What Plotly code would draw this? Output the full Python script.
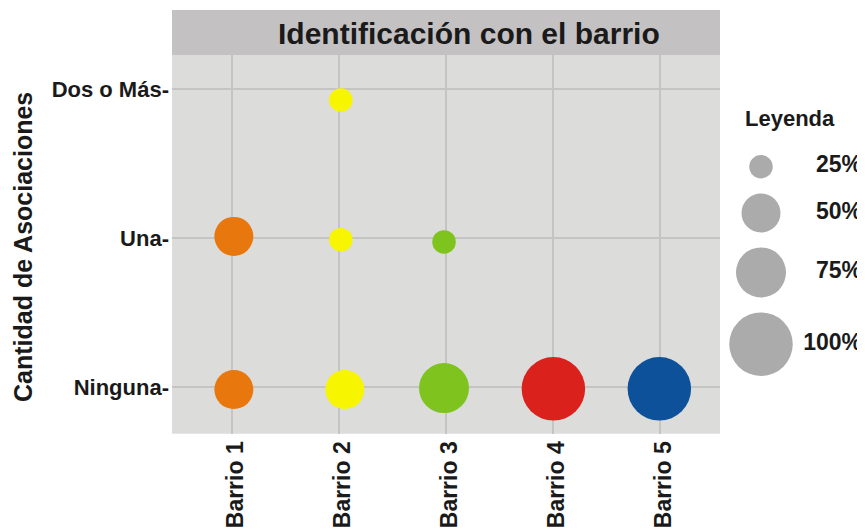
import numpy as np
import plotly.graph_objects as go

# ---------------- data ----------------
barrios = ["Barrio 1", "Barrio 2", "Barrio 3", "Barrio 4", "Barrio 5"]
niveles = ["Ninguna", "Una", "Dos o Más"]
nivel_ticktext = ["Ninguna-", "Una-", "Dos o Más-"]

pt_barrio = ["Barrio 1", "Barrio 1", "Barrio 2", "Barrio 2", "Barrio 2",
             "Barrio 3", "Barrio 3", "Barrio 4", "Barrio 5"]
pt_nivel = ["Una", "Ninguna", "Dos o Más", "Una", "Ninguna",
            "Una", "Ninguna", "Ninguna", "Ninguna"]
pt_pct = [50, 50, 25, 25, 50, 25, 75, 100, 100]
# geom_jitter offsets (category units)
pt_jit_x = [0.019, 0.019, 0.019, 0.019, 0.056, -0.017, -0.017, 0.005, -0.005]
pt_jit_y = [0.011, -0.017, -0.074, -0.011, -0.017, -0.026, -0.007, -0.012, -0.012]

legend_breaks = [25, 50, 75, 100]
legend_labels = ["25%", "50%", "75%", "100%"]

title_text = "Identificación con el barrio"
y_title = "Cantidad de Asociaciones"
legend_title = "Leyenda"

# ---------------- style ----------------
WIN_W, WIN_H = 865, 531
OX, OY = 8, 8                      # default page body margin
FW, FH = WIN_W - OX, WIN_H - OY    # figure size
P_L, P_R, P_T, P_B = 172, 720, 55, 433.7   # panel in window px
STRIP_TOP = 10
COLORS = {"Barrio 1": "#E8770E", "Barrio 2": "#F7F500", "Barrio 3": "#7FC31F",
          "Barrio 4": "#DA211C", "Barrio 5": "#0C5199"}
SIZE_PX = [23.5, 39, 50, 63.5]
PANEL_BG = "#DCDCDB"
STRIP_BG = "#C3C1C2"
GRID = "#C4C4C4"
TXT = "#1a1a1a"
FONT = "Liberation Sans"


def size_scale(v):
    return np.interp(v, legend_breaks, SIZE_PX)


def px_x(p):
    return (p - OX) / FW


def px_y(p):
    return 1 - (p - OY) / FH


fig = go.Figure()

for i_b, b in enumerate(barrios):
    idx = [i for i, x in enumerate(pt_barrio) if x == b]
    xs = [i_b + 1 + pt_jit_x[i] for i in idx]
    ys = [niveles.index(pt_nivel[i]) + pt_jit_y[i] for i in idx]
    sz = [float(size_scale(pt_pct[i])) for i in idx]
    fig.add_trace(go.Scatter(
        x=xs, y=ys, mode="markers", showlegend=False, hoverinfo="skip",
        marker=dict(size=sz, color=COLORS[b], opacity=1, line=dict(width=0)),
        xaxis="x", yaxis="y"))

# legend keys (pixel overlay axis, window px)
leg_d = [float(size_scale(v)) for v in legend_breaks]
leg_y = [166.7]
for k in range(1, len(leg_d)):
    leg_y.append(leg_y[-1] + (leg_d[k - 1] + leg_d[k]) / 2 + 15)
fig.add_trace(go.Scatter(
    x=[761] * len(leg_d), y=leg_y, mode="markers", showlegend=False, hoverinfo="skip",
    marker=dict(size=leg_d, color="#ABABAB", opacity=1, line=dict(width=0)),
    xaxis="x2", yaxis="y2"))
fig.add_trace(go.Scatter(
    x=[862] * len(leg_d), y=leg_y, mode="text", text=legend_labels,
    textposition="middle left", showlegend=False, hoverinfo="skip",
    textfont=dict(family=FONT, size=23, color=TXT, weight="bold"),
    xaxis="x2", yaxis="y2"))

fig.update_layout(
    width=FW, height=FH,
    margin=dict(l=0, r=0, t=0, b=0),
    paper_bgcolor="white",
    plot_bgcolor="rgba(0,0,0,0)",
    xaxis=dict(
        domain=[px_x(P_L), px_x(P_R)], range=[0.441, 5.562],
        tickvals=list(range(1, len(barrios) + 1)), ticktext=barrios,
        tickangle=-90, showgrid=True, gridcolor=GRID, gridwidth=2,
        zeroline=False, showline=False, ticks="", ticklabelstandoff=2,
        ticklabelshift=4,
        tickfont=dict(family=FONT, size=23, color=TXT, weight="bold"),
        anchor="y", fixedrange=True),
    yaxis=dict(
        domain=[px_y(P_B), px_y(P_T)], range=[-0.313, 2.228],
        tickvals=list(range(len(niveles))), ticktext=nivel_ticktext,
        showgrid=True, gridcolor=GRID, gridwidth=2,
        zeroline=False, showline=False, ticks="", ticklabelstandoff=2,
        tickfont=dict(family=FONT, size=22, color=TXT, weight="bold"),
        anchor="x", fixedrange=True),
    xaxis2=dict(domain=[0, 1], range=[OX, WIN_W], visible=False, anchor="y2", fixedrange=True),
    yaxis2=dict(domain=[0, 1], range=[WIN_H, OY], visible=False, anchor="x2", fixedrange=True),
    shapes=[
        dict(type="rect", xref="paper", yref="paper", layer="below",
             x0=px_x(P_L), x1=px_x(P_R), y0=px_y(P_B), y1=px_y(P_T),
             fillcolor=PANEL_BG, line=dict(width=0)),
        dict(type="rect", xref="paper", yref="paper", layer="below",
             x0=px_x(P_L), x1=px_x(P_R), y0=px_y(P_T), y1=px_y(STRIP_TOP),
             fillcolor=STRIP_BG, line=dict(width=0)),
    ],
    annotations=[
        dict(text=title_text, xref="paper", yref="paper", x=px_x(469), y=px_y(33),
             xanchor="center", yanchor="middle", showarrow=False,
             font=dict(family=FONT, size=30, color=TXT, weight="bold")),
        dict(text=y_title, xref="paper", yref="paper", x=px_x(23), y=px_y(247),
             xanchor="center", yanchor="middle", textangle=-90, showarrow=False,
             font=dict(family=FONT, size=25, color=TXT, weight="bold")),
        dict(text=legend_title, xref="paper", yref="paper", x=px_x(743), y=px_y(118),
             xanchor="left", yanchor="middle", showarrow=False,
             font=dict(family=FONT, size=22, color=TXT, weight="bold")),
    ],
)

fig.write_html("out.html")
